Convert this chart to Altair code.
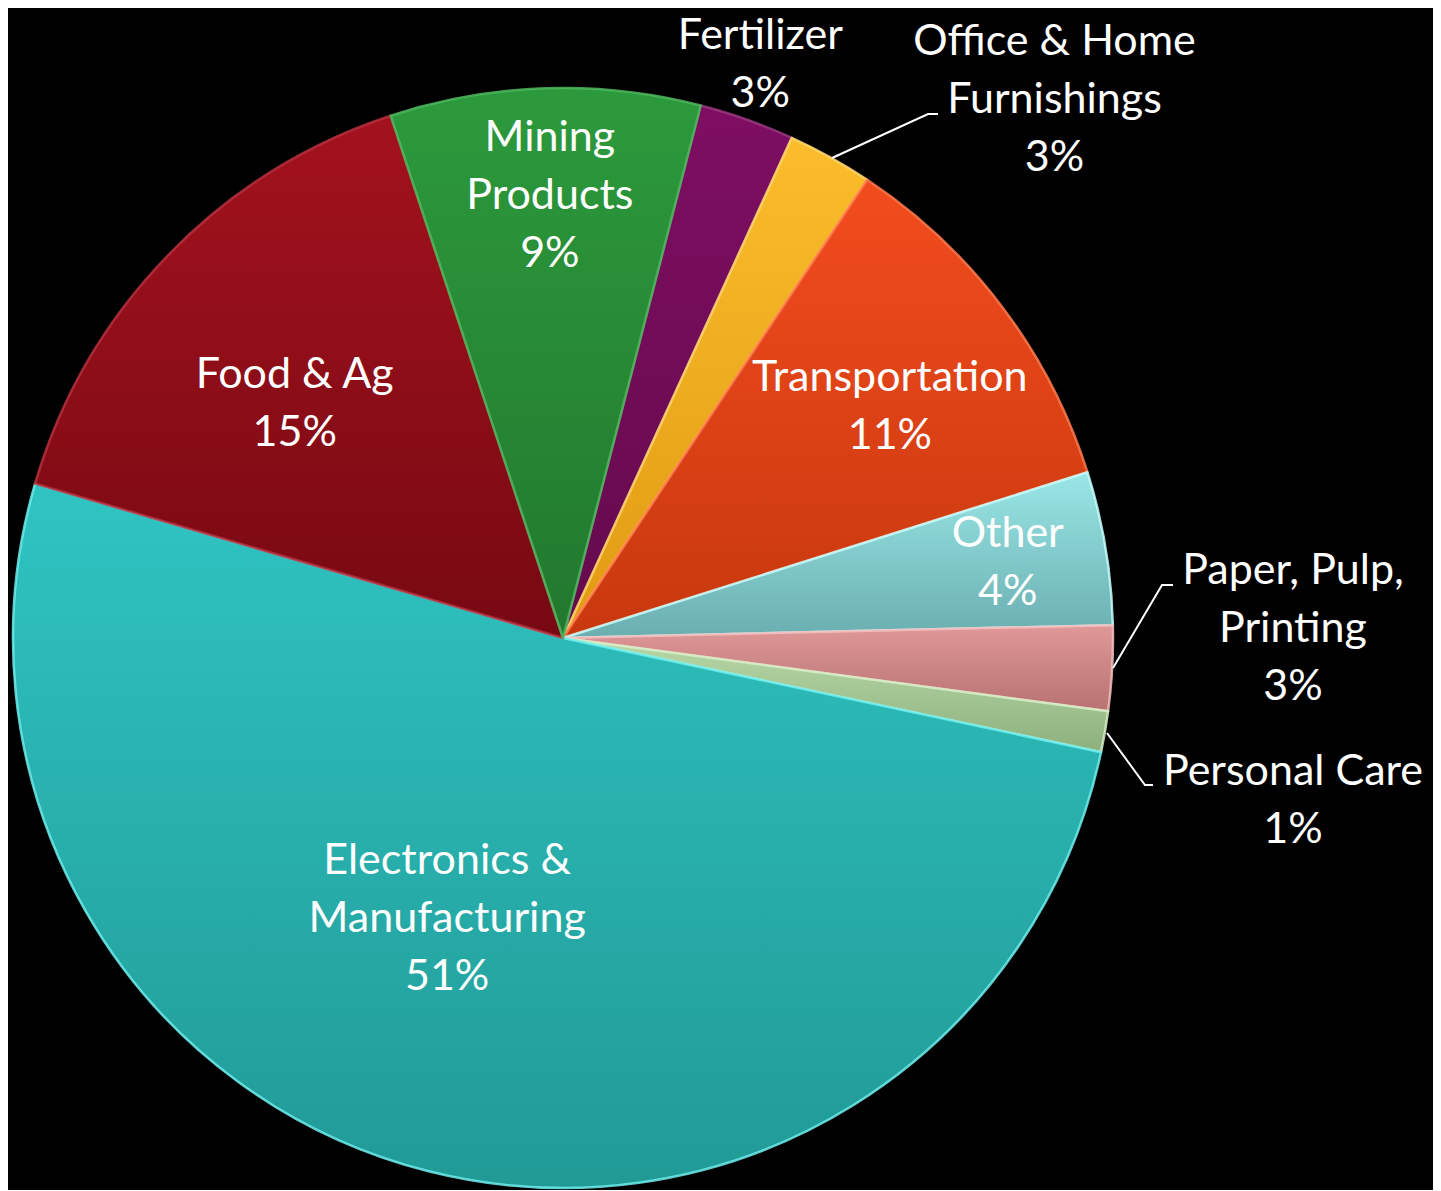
import math
import altair as alt
import pandas as pd

# ---------------- data ----------------
categories = ["Fertilizer", "Office & Home Furnishings", "Transportation", "Other",
              "Paper, Pulp, Printing", "Personal Care", "Electronics & Manufacturing",
              "Food & Ag", "Mining Products"]
shares = [2.8, 2.5, 10.8, 4.5, 2.5, 1.2, 51.2, 15.4, 9.1]
pct_labels = ["3%", "3%", "11%", "4%", "3%", "1%", "51%", "15%", "9%"]
label_names = ["Fertilizer", "Office & Home\nFurnishings", "Transportation", "Other",
               "Paper, Pulp,\nPrinting", "Personal Care", "Electronics &\nManufacturing",
               "Food & Ag", "Mining\nProducts"]

# ---------------- style / layout ----------------
W, H = 1425, 1175
CX, CY, R = 555, 630, 550
START_DEG = 14.5
LINE_H = 58
top_colors = ["#7e0e62", "#fbbd2c", "#f24c1e", "#9ae6e6", "#e09898",
              "#b8d8a8", "#2fc4c2", "#a3121e", "#2c9a3c"]
bottom_colors = ["#640a4c", "#e09a12", "#c8380e", "#6aaeb0", "#b87272",
                 "#8eb07e", "#219a96", "#770912", "#22782e"]
edge_colors = ["#9a3a80", "#ffd870", "#ff7a50", "#c8ffff", "#f4c0c0",
               "#d8f0c8", "#70f0f0", "#b83040", "#50b860"]
# label placement (angle in degrees clockwise from 12 o'clock, radius px)
label_angle = [19.0, 42.4, 54.8, 80.4, 89.3, 102.6, 202.4, 311.1, 358.3]
label_radius = [606, 729, 400, 451, 730, 748, 304, 356, 442]
# leader lines, offsets from pie centre
leaders = {
    "Office & Home Furnishings": [(269, -480), (365, -524), (375, -524)],
    "Paper, Pulp, Printing": [(550, 30), (599, -53), (610, -53)],
    "Personal Care": [(544, 95), (582, 147), (590, 147)],
}

total = sum(shares)
t0, t1, acc = [], [], 0.0
for s in shares:
    t0.append(acc)
    acc += s
    t1.append(acc)

df = pd.DataFrame({"cat": categories, "share": shares, "t0": t0, "t1": t1})

start = math.radians(START_DEG)
theta_scale = alt.Scale(domain=[0, total], range=[start, start + 2 * math.pi])

layers = []
for i, c in enumerate(categories):
    grad = {
        "gradient": "linear", "x1": 0, "y1": 0, "x2": 0, "y2": 1,
        "stops": [{"offset": 0, "color": top_colors[i]},
                  {"offset": 1, "color": bottom_colors[i]}],
    }
    layers.append(
        alt.Chart(df)
        .transform_filter(alt.datum.cat == c)
        .mark_arc(outerRadius=R, fill=grad, stroke=edge_colors[i],
                  strokeWidth=2.5, strokeOpacity=0.85, strokeJoin="round")
        .encode(theta=alt.Theta("t0:Q", scale=theta_scale),
                theta2="t1:Q",
                x=alt.value(CX), y=alt.value(CY))
    )

# labels (block centred on the layout point)
lab_x, lab_y, lab_t = [], [], []
for i in range(len(categories)):
    a = math.radians(label_angle[i])
    txt = label_names[i] + "\n" + pct_labels[i]
    n = txt.count("\n") + 1
    lab_x.append(CX + label_radius[i] * math.sin(a))
    lab_y.append(CY - label_radius[i] * math.cos(a) - (n - 1) * LINE_H / 2)
    lab_t.append(txt)
lab_df = pd.DataFrame({"x": lab_x, "y": lab_y, "text": lab_t})

xs = alt.Scale(domain=[0, W], range=[0, W], zero=False, nice=False)
ys = alt.Scale(domain=[0, H], range=[0, H], zero=False, nice=False)

text_layer = (
    alt.Chart(lab_df)
    .mark_text(font="Lato", fontSize=43, color="white", align="center",
               baseline="middle", lineBreak="\n", lineHeight=LINE_H)
    .encode(x=alt.X("x:Q", scale=xs, axis=None),
            y=alt.Y("y:Q", scale=ys, axis=None),
            text="text:N")
)

rows = []
for name, pts in leaders.items():
    for k, (dx, dy) in enumerate(pts):
        rows.append({"line": name, "k": k, "x": CX + dx, "y": CY + dy})
lead_df = pd.DataFrame(rows)
lead_layer = (
    alt.Chart(lead_df)
    .mark_line(color="white", strokeWidth=2)
    .encode(x=alt.X("x:Q", scale=xs, axis=None),
            y=alt.Y("y:Q", scale=ys, axis=None),
            detail="line:N", order="k:Q")
)

chart = (
    alt.layer(*layers, lead_layer, text_layer)
    .properties(width=W, height=H, background="black", padding=0)
    .configure_view(stroke=None)
)

chart.save("out.html", embed_options={"renderer": "svg", "actions": False})
